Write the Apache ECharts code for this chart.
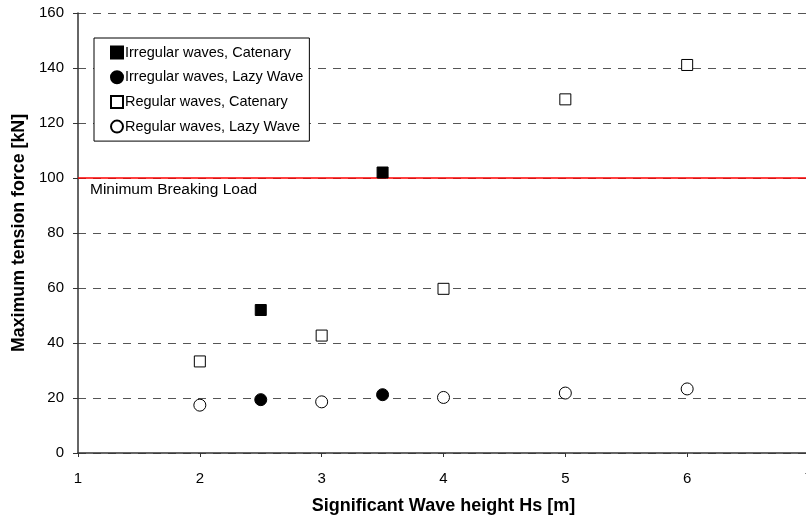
<!DOCTYPE html>
<html><head><meta charset="utf-8">
<script src="https://cdn.jsdelivr.net/npm/echarts@6/dist/echarts.min.js"></script>
<style>html,body{margin:0;padding:0;background:#fff;overflow:hidden}#c{width:806px;height:519px}</style>
</head><body><div id="c"></div>
<script>
const xTicks = [1, 2, 3, 4, 5, 6, 7];
const yTicks = [0, 20, 40, 60, 80, 100, 120, 140, 160];
const irrCatX = [2.5, 3.5];
const irrCatY = [52, 102];
const irrLazyX = [2.5, 3.5];
const irrLazyY = [19.4, 21.2];
const regCatX = [2, 3, 4, 5, 6];
const regCatY = [33.3, 42.7, 59.7, 128.6, 141.1];
const regLazyX = [2, 3, 4, 5, 6];
const regLazyY = [17.4, 18.6, 20.2, 21.8, 23.3];
const mblValue = 100;
const mblLabel = 'Minimum Breaking Load';
const names = ['Irregular waves, Catenary', 'Irregular waves, Lazy Wave', 'Regular waves, Catenary', 'Regular waves, Lazy Wave'];

const zip = (xs, ys) => xs.map((x, i) => [x, ys[i]]);
const font = 'Liberation Sans, Arial, sans-serif';
const chart = echarts.init(document.getElementById('c'));
chart.setOption({
  animation: false,
  textStyle: { fontFamily: font },
  grid: { left: 78, width: 731, top: 13, height: 440, containLabel: false, outerBoundsMode: 'none' },
  legend: {
    orient: 'vertical', left: 94, top: 38,
    borderColor: '#000', borderWidth: 1, backgroundColor: '#fff',
    padding: [7, 6, 7, 16], itemWidth: 12, itemHeight: 12, itemGap: 9.7,
    textStyle: { fontSize: 14.5, color: '#000', fontFamily: font, padding: [0, 0, 0, -3] },
    data: names.map(n => ({ name: n }))
  },
  xAxis: {
    type: 'value', min: xTicks[0], max: xTicks[xTicks.length - 1], interval: 1,
    name: 'Significant Wave height Hs [m]', nameLocation: 'middle', nameGap: 44,
    nameTextStyle: { fontSize: 18, fontWeight: 'bold', color: '#000', fontFamily: font },
    axisLine: { lineStyle: { color: '#333', width: 1.5 } },
    axisTick: { length: 4, lineStyle: { color: '#333' } },
    axisLabel: { fontSize: 15, color: '#000', margin: 18 },
    splitLine: { show: false }
  },
  yAxis: {
    type: 'value', min: yTicks[0], max: yTicks[yTicks.length - 1], interval: 20,
    name: 'Maximum tension force [kN]', nameLocation: 'middle', nameGap: 45,
    nameTextStyle: { fontSize: 17.8, fontWeight: 'bold', color: '#000', fontFamily: font },
    axisLine: { show: true, lineStyle: { color: '#333', width: 1.5 } },
    axisTick: { show: true, length: 5, lineStyle: { color: '#333' } },
    axisLabel: { fontSize: 15, color: '#000', margin: 14 },
    splitLine: { show: true, lineStyle: { color: '#555', type: [8, 7], width: 1 } }
  },
  series: [
    { name: names[0], type: 'scatter', symbol: 'rect', symbolSize: 11, z: 5,
      itemStyle: { color: '#000', opacity: 1, borderColor: '#000', borderWidth: 1 }, data: zip(irrCatX, irrCatY),
      markLine: { silent: true, symbol: 'none', z: 1,
        lineStyle: { color: '#ff0000', type: 'solid', width: 1.5 },
        label: { show: true, position: 'insideStartBottom', formatter: mblLabel, color: '#000', fontSize: 15.5, fontFamily: font, distance: [12, 4] },
        data: [{ yAxis: mblValue }] } },
    { name: names[1], type: 'scatter', symbol: 'circle', symbolSize: 12, z: 5,
      itemStyle: { color: '#000', opacity: 1, borderColor: '#000', borderWidth: 1 }, data: zip(irrLazyX, irrLazyY) },
    { name: names[2], type: 'scatter', symbol: 'rect', symbolSize: 11, z: 5,
      itemStyle: { color: '#fff', opacity: 1, borderColor: '#000', borderWidth: 1 }, data: zip(regCatX, regCatY) },
    { name: names[3], type: 'scatter', symbol: 'circle', symbolSize: 12, z: 5,
      itemStyle: { color: '#fff', opacity: 1, borderColor: '#000', borderWidth: 1 }, data: zip(regLazyX, regLazyY) }
  ]
});
</script></body></html>
